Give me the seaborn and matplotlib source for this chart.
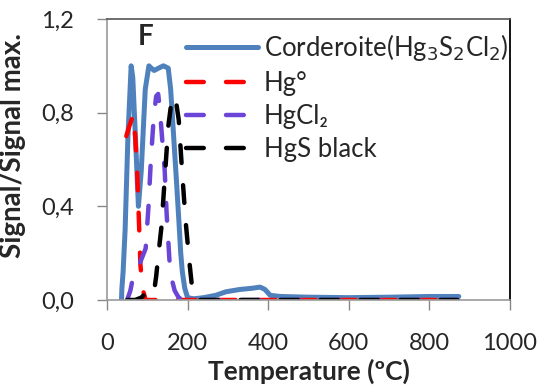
import numpy as np
import pandas as pd
import matplotlib
matplotlib.use("Agg")
import matplotlib.pyplot as plt
import seaborn as sns

# Corderoite (Hg3S2Cl2)
cord_T = [36, 37, 40, 45, 52, 60, 64, 70, 78, 85, 95, 104, 110, 117, 128, 140, 152, 158, 165, 172, 178, 183, 187, 193, 200, 215, 240, 270, 295, 330, 360, 380, 392, 405, 430, 500, 600, 700, 800, 873]
cord_v = [0.0, 0.05, 0.12, 0.3, 0.7, 1.0, 0.95, 0.72, 0.40, 0.55, 0.9, 1.0, 0.99, 0.98, 0.99, 1.0, 0.99, 0.9, 0.71, 0.52, 0.35, 0.2, 0.12, 0.05, 0.01, 0.005, 0.01, 0.02, 0.035, 0.045, 0.05, 0.055, 0.045, 0.02, 0.015, 0.012, 0.01, 0.012, 0.015, 0.015]

# Hg°
hg_T = [48, 55, 65, 70, 75, 78, 80, 83, 88, 96, 150, 300, 500, 700, 870]
hg_v = [0.70, 0.74, 0.79, 0.70, 0.54, 0.40, 0.30, 0.15, 0.05, 0.0, 0.0, 0.0, 0.0, 0.0, 0.0]

# HgCl2
hgcl_T = [50, 58, 65, 80, 96, 103, 109, 116, 122, 127, 131, 135, 143, 148, 155, 162, 168, 178, 190, 300, 500, 700, 870]
hgcl_v = [0.0, 0.04, 0.10, 0.15, 0.22, 0.40, 0.60, 0.78, 0.87, 0.88, 0.82, 0.73, 0.56, 0.37, 0.17, 0.08, 0.04, 0.01, 0.0, 0.0, 0.0, 0.0, 0.0]

# HgS black
hgs_T = [50, 70, 85, 91, 100, 112, 118, 122, 128, 135, 143, 152, 161, 166, 172, 178, 186, 195, 204, 212, 222, 300, 500, 700, 870]
hgs_v = [0.0, 0.0, 0.01, 0.02, 0.01, 0.01, 0.05, 0.10, 0.20, 0.31, 0.51, 0.74, 0.86, 0.87, 0.84, 0.77, 0.56, 0.34, 0.17, 0.04, 0.0, 0.0, 0.0, 0.0, 0.0]

x_ticks = [0, 200, 400, 600, 800, 1000]
y_ticks = [0.0, 0.4, 0.8, 1.2]

sns.set_theme(style="white")
plt.rcParams['font.family'] = ['Lato', 'DejaVu Sans']

fig = plt.figure(figsize=(5.45, 3.9), dpi=100)
ax = fig.add_axes([0.1963, 0.2308, 0.7394, 0.7205])

series = [
    ("Corderoite(Hg$_3$S$_2$Cl$_2$)", cord_T, cord_v, "#4f81bd", None, 3.6),
    ("Hg°", hg_T, hg_v, "#ff0000", (4, 5), 3.2),
    ("HgCl₂", hgcl_T, hgcl_v, "#6a45d8", (4, 5), 3.2),
    ("HgS black", hgs_T, hgs_v, "#000000", (4, 5), 3.2),
]
for name, T, v, col, dash, lw in series:
    df = pd.DataFrame({"T": T, "v": v})
    sns.lineplot(data=df, x="T", y="v", ax=ax, color=col, lw=lw, label=name,
                 estimator=None, sort=False)
    l = ax.get_lines()[-1]
    if dash is not None:
        l.set_dashes(dash)
        l.set_dash_capstyle('round')
    else:
        l.set_solid_capstyle('round')

ax.set_xlim(0, 1000)
ax.set_ylim(0, 1.2)
ax.set_xticks(x_ticks)
ax.set_yticks(y_ticks)
ax.set_yticklabels([f"{t:.1f}".replace('.', ',') for t in y_ticks])
ax.tick_params(axis='both', labelsize=17, length=7, width=1, color='#888888', direction='out',
               left=True, bottom=True)
ax.tick_params(axis='y', pad=17)
ax.tick_params(axis='x', pad=17)
for s in ['left', 'bottom']:
    ax.spines[s].set_color('#999999')
    ax.spines[s].set_linewidth(1.2)
ax.spines['top'].set_color('#555555')
ax.spines['top'].set_linewidth(1.2)
ax.spines['right'].set_color('black')
ax.spines['right'].set_linewidth(1.3)

ax.set_xlabel("Temperature (ºC)", fontsize=19, fontweight='bold', labelpad=3)
ax.set_ylabel("Signal/Signal max.", fontsize=20, fontweight='bold')
ax.yaxis.set_label_coords(-0.2, 0.55)
ax.text(0.097, 0.936, "F", transform=ax.transAxes, fontsize=20, fontweight='bold', ha='center', va='center')

leg = ax.legend(loc='upper left', bbox_to_anchor=(0.195, 0.955), frameon=False, fontsize=18.5,
                handlelength=2.8, handletextpad=0.25, labelspacing=0.32, borderaxespad=0, borderpad=0)

fig.savefig("out.png", dpi=100)
